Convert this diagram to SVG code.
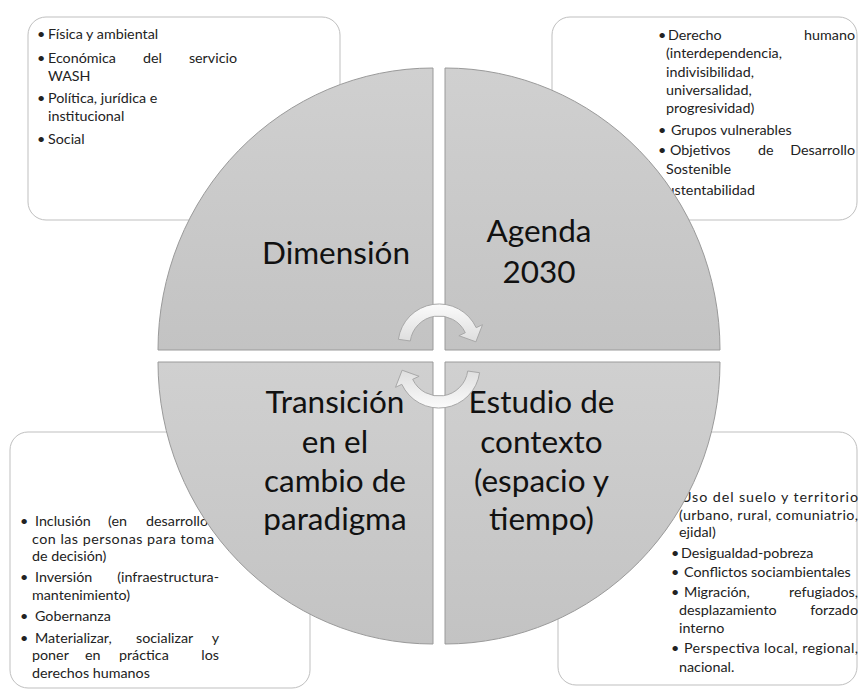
<svg xmlns="http://www.w3.org/2000/svg" width="860" height="689" viewBox="0 0 860 689">
<defs>
<linearGradient id="gq" x1="0" y1="0" x2="0" y2="1"><stop offset="0" stop-color="#d0d0d0"/><stop offset="1" stop-color="#c3c3c3"/></linearGradient>
<linearGradient id="ga" x1="0" y1="0" x2="0" y2="1"><stop offset="0" stop-color="#fbfbfb"/><stop offset="1" stop-color="#dedede"/></linearGradient>
</defs>
<style>
.box{fill:#fff;stroke:#bfbfbf;stroke-width:1}
.q{fill:url(#gq);stroke:#9a9a9a;stroke-width:1}
.t{font-family:Lato,"Liberation Sans",sans-serif;font-size:14.3px;fill:#222}
.e{text-anchor:end}
.big{font-family:Lato,"Liberation Sans",sans-serif;font-size:31.5px;fill:#111;text-anchor:middle}
.arr{fill:url(#ga);stroke:#a8a8a8;stroke-width:1}
</style>
<rect width="860" height="689" fill="#fff"/>

<g id="box-dimension">
<rect class="box" x="28" y="17" width="312" height="203" rx="18"/>
<text class="t" x="37" y="39">•</text><text class="t" x="48" y="39">Física y ambiental</text>
<text class="t" x="37" y="62.5">•</text><text class="t" x="48" y="62.5">Económica</text><text class="t" x="143" y="62.5">del</text><text class="t e" x="237" y="62.5">servicio</text>
<text class="t" x="48" y="80.5">WASH</text>
<text class="t" x="37" y="103">•</text><text class="t" x="48" y="103">Política, jurídica e</text>
<text class="t" x="48" y="121">institucional</text>
<text class="t" x="37" y="144">•</text><text class="t" x="48" y="144">Social</text>
</g>

<g id="box-agenda">
<rect class="box" x="552" y="17" width="305" height="203" rx="18"/>
<text class="t" x="658" y="40">•</text><text class="t" x="668" y="40">Derecho</text><text class="t e" x="855" y="40">humano</text>
<text class="t" x="666" y="58">(interdependencia,</text>
<text class="t" x="666" y="76.5">indivisibilidad,</text>
<text class="t" x="666" y="95">universalidad,</text>
<text class="t" x="666" y="113">progresividad)</text>
<text class="t" x="658" y="135">•</text><text class="t" x="671" y="135">Grupos vulnerables</text>
<text class="t" x="658" y="155">•</text><text class="t" x="670" y="155">Objetivos</text><text class="t" x="758" y="155">de</text><text class="t e" x="855" y="155">Desarrollo</text>
<text class="t" x="666" y="174">Sostenible</text>
<text class="t" x="649" y="195">•</text><text class="t" x="659" y="195">Sustentabilidad</text>
</g>

<g id="box-transicion">
<rect class="box" x="10" y="432" width="300" height="256" rx="18"/>
<text class="t" x="20" y="526">•</text><text class="t" x="35" y="526">Inclusión</text><text class="t" x="108" y="526">(en</text><text class="t e" x="208" y="526">desarrollo</text>
<text class="t" x="32" y="543.5" textLength="182" lengthAdjust="spacing">con las personas para toma</text>
<text class="t" x="32" y="561">de decisión)</text>
<text class="t" x="20" y="582">•</text><text class="t" x="35" y="582">Inversión</text><text class="t e" x="219" y="582">(infraestructura-</text>
<text class="t" x="32" y="599.5">mantenimiento)</text>
<text class="t" x="20" y="621">•</text><text class="t" x="35" y="621">Gobernanza</text>
<text class="t" x="20" y="642.5">•</text><text class="t" x="35" y="642.5">Materializar,</text><text class="t" x="136" y="642.5">socializar</text><text class="t e" x="219" y="642.5">y</text>
<text class="t" x="32" y="660">poner</text><text class="t" x="85" y="660">en</text><text class="t" x="119" y="660">práctica</text><text class="t e" x="219" y="660">los</text>
<text class="t" x="32" y="677.5">derechos humanos</text>
</g>

<g id="box-estudio">
<rect class="box" x="558" y="432" width="299" height="253" rx="18"/>
<text class="t" x="671" y="502">•</text><text class="t" x="681" y="502" textLength="177" lengthAdjust="spacing">Uso del suelo y territorio</text>
<text class="t" x="679" y="520" textLength="179" lengthAdjust="spacing">(urbano, rural, comuniatrio,</text>
<text class="t" x="679" y="537">ejidal)</text>
<text class="t" x="671" y="558">•</text><text class="t" x="681" y="558">Desigualdad-pobreza</text>
<text class="t" x="671" y="577">•</text><text class="t" x="684" y="577">Conflictos sociambientales</text>
<text class="t" x="671" y="597">•</text><text class="t" x="684" y="597">Migración,</text><text class="t e" x="858" y="597">refugiados,</text>
<text class="t" x="679" y="615">desplazamiento</text><text class="t e" x="858" y="615">forzado</text>
<text class="t" x="679" y="633">interno</text>
<text class="t" x="671" y="653">•</text><text class="t" x="684" y="653" textLength="174" lengthAdjust="spacing">Perspectiva local, regional,</text>
<text class="t" x="679" y="672">nacional.</text>
</g>

<g id="quadrant-dimension">
<path class="q" d="M433,350 L158,350 A275,282 0 0 1 433,68 Z"/>
<text class="big" x="336" y="264">Dimensión</text>
</g>
<g id="quadrant-agenda">
<path class="q" d="M445,350 L445,68 A275,282 0 0 1 720,350 Z"/>
<text class="big" x="539" y="242">Agenda</text>
<text class="big" x="539" y="283">2030</text>
</g>
<g id="quadrant-estudio">
<path class="q" d="M445,362 L720,362 A275,282 0 0 1 445,644 Z"/>
<text class="big" x="541.5" y="413">Estudio de</text>
<text class="big" x="541.5" y="453">contexto</text>
<text class="big" x="541.5" y="492">(espacio y</text>
<text class="big" x="541.5" y="530">tiempo)</text>
</g>
<g id="quadrant-transicion">
<path class="q" d="M433,362 L433,644 A275,282 0 0 1 158,362 Z"/>
<text class="big" x="335" y="413">Transición</text>
<text class="big" x="335" y="453">en el</text>
<text class="big" x="335" y="492">cambio de</text>
<text class="big" x="335" y="530">paradigma</text>
</g>

<g id="connectors">
<path class="arr" d="M398.4,339.3 A41,41 0 0 1 476.2,327.7 L482.5,324.7 L475.9,341.8 L458.9,335.7 L465.3,332.7 A29,29 0 0 0 410.3,341 Z"/>
<path class="arr" d="M398.4,339.3 A41,41 0 0 1 476.2,327.7 L482.5,324.7 L475.9,341.8 L458.9,335.7 L465.3,332.7 A29,29 0 0 0 410.3,341 Z" transform="rotate(180 439 356)"/>
</g>
</svg>
